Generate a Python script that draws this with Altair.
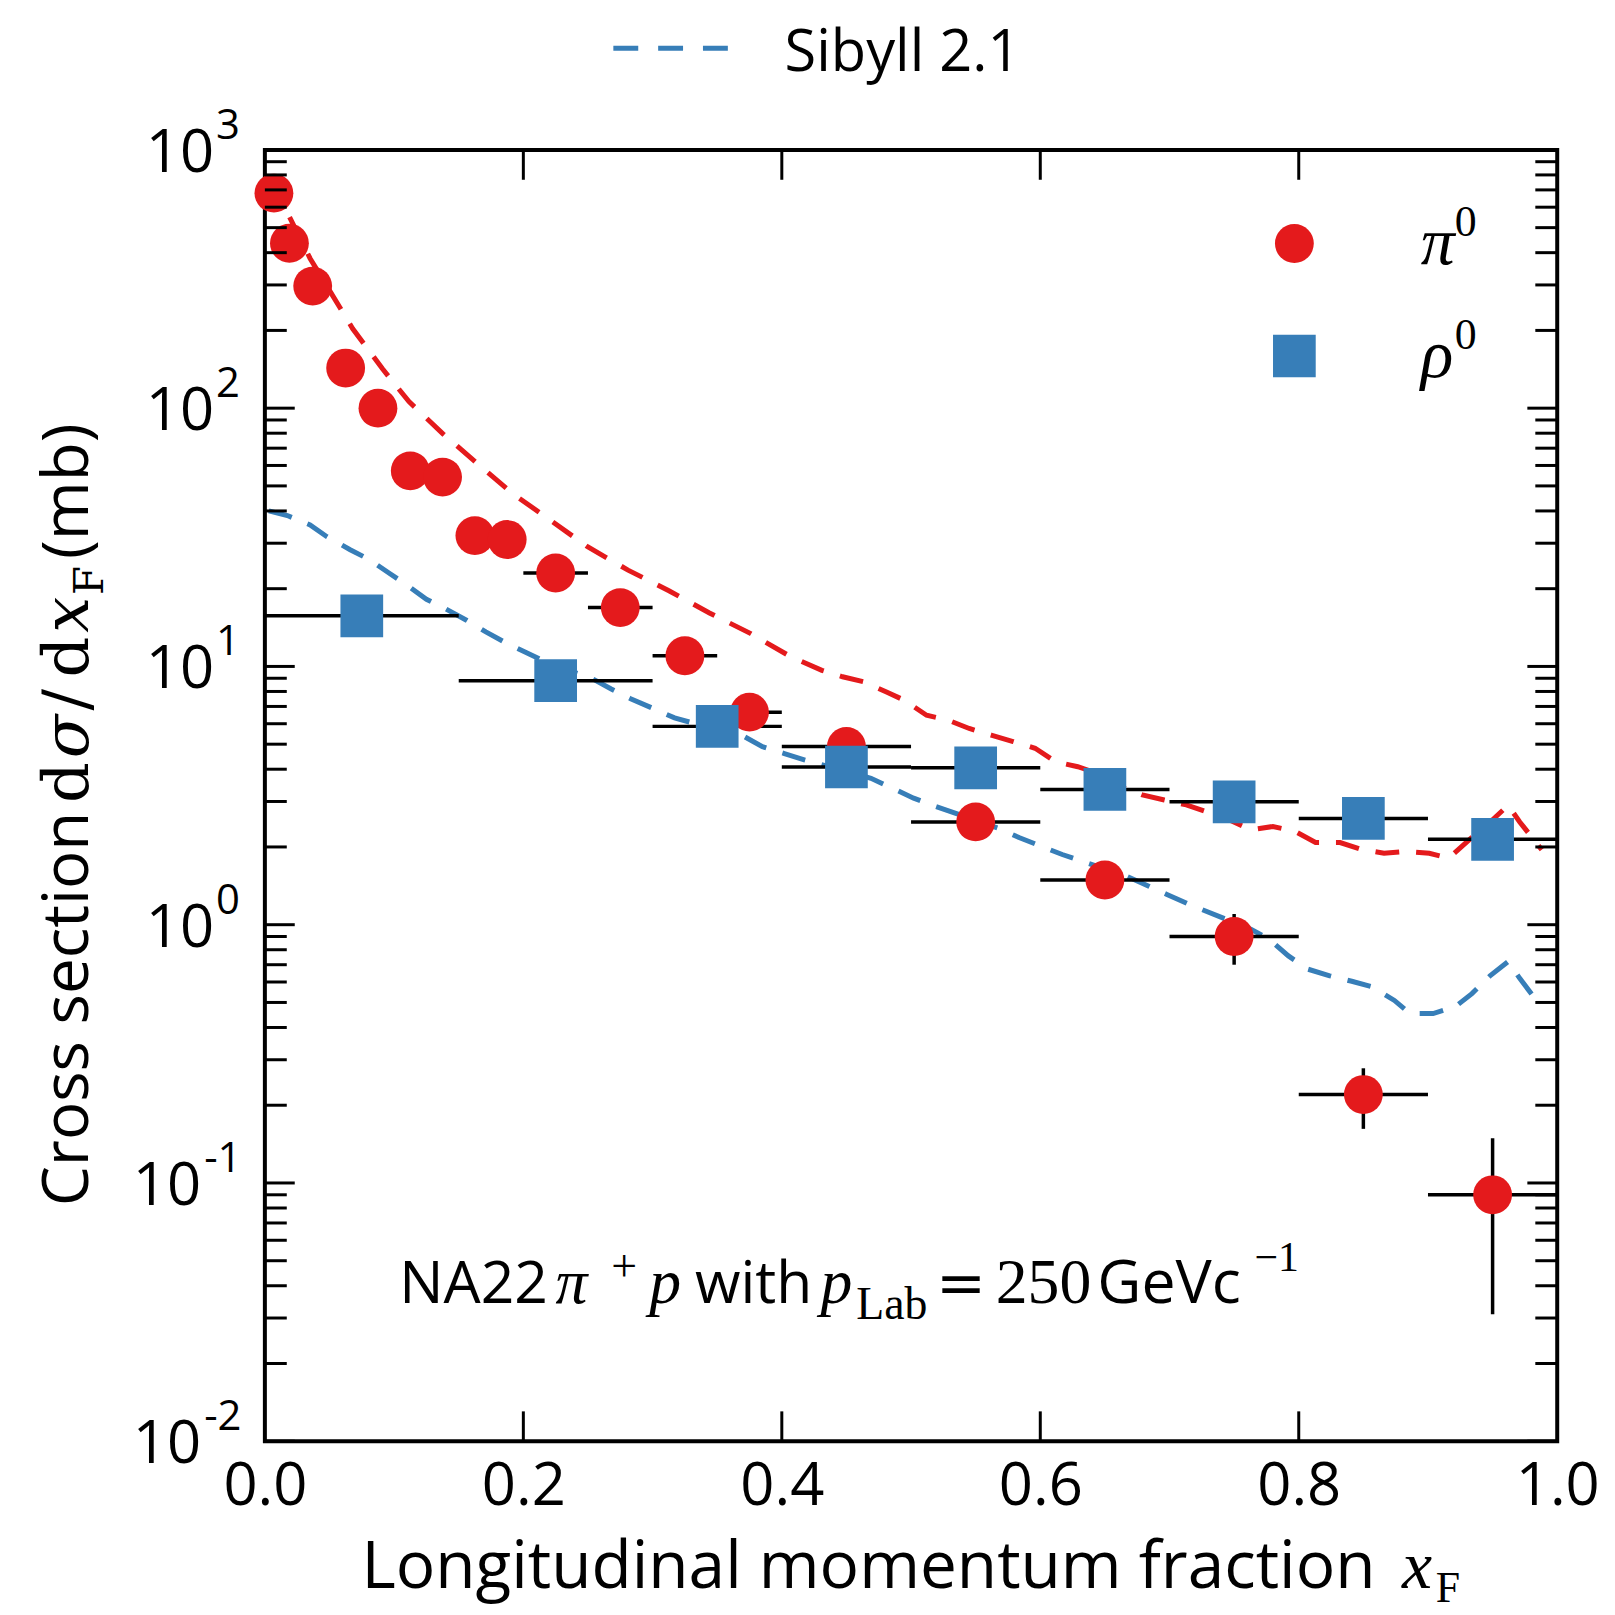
import altair as alt
import pandas as pd

# ---------------- data ----------------
pi0_x = [0.007, 0.019, 0.037, 0.0625, 0.0875, 0.1125, 0.1375, 0.1625, 0.1875,
         0.225, 0.275, 0.325, 0.375, 0.45, 0.55, 0.65, 0.75, 0.85, 0.95]
pi0_y = [680, 435, 297, 143, 100, 57.2, 54.1, 32.1, 31.0,
         23.0, 16.9, 11.0, 6.65, 4.9, 2.50, 1.49, 0.90, 0.22, 0.090]
pi0_xerr = [0.006, 0.006, 0.0125, 0.0125, 0.0125, 0.0125, 0.0125, 0.0125, 0.0125,
            0.025, 0.025, 0.025, 0.025, 0.05, 0.05, 0.05, 0.05, 0.05, 0.05]
pi0_yerr = [0, 0, 0, 0, 0, 0, 0, 0, 0,
            0, 0, 0, 0, 0, 0, 0, 0.20, 0.058, 0.059]

rho0_x = [0.075, 0.225, 0.35, 0.45, 0.55, 0.65, 0.75, 0.85, 0.95]
rho0_y = [15.7, 8.81, 5.86, 4.08, 4.05, 3.34, 2.99, 2.58, 2.14]
rho0_xerr = [0.075, 0.075, 0.05, 0.05, 0.05, 0.05, 0.05, 0.05, 0.05]
rho0_yerr = [0, 0, 0, 0, 0, 0, 0, 0, 0]

sib_pi0_x = [0.005, 0.0174, 0.035, 0.068, 0.091, 0.1115, 0.138, 0.165, 0.192, 0.221,
             0.250, 0.281, 0.313, 0.344, 0.376, 0.407, 0.431, 0.447, 0.464, 0.481,
             0.495, 0.512, 0.529, 0.545, 0.562, 0.579, 0.596, 0.612, 0.629, 0.644,
             0.662, 0.679, 0.696, 0.713, 0.732, 0.746, 0.763, 0.780, 0.797, 0.813,
             0.832, 0.848, 0.866, 0.883, 0.901, 0.916, 0.935, 0.950, 0.962, 0.971,
             0.988]
sib_pi0_y = [760, 571, 380, 203, 142, 106, 79.4, 60.7, 46.6, 36.8,
             29.0, 23.6, 19.6, 16.1, 13.4, 10.9, 9.66, 9.12, 8.7, 7.96,
             7.39, 6.47, 6.19, 5.75, 5.42, 5.12, 4.82, 4.27, 4.09, 3.86,
             3.43, 3.18, 3.04, 2.91, 2.70, 2.55, 2.33, 2.40, 2.30, 2.08,
             2.08, 1.96, 1.89, 1.92, 1.89, 1.81, 2.2, 2.55, 2.9, 2.5,
             1.95]

sib_rho0_x = [0.003, 0.0174, 0.035, 0.048, 0.066, 0.081, 0.096, 0.109, 0.125, 0.140,
              0.156, 0.171, 0.187, 0.221, 0.252, 0.268, 0.283, 0.300, 0.317, 0.344,
              0.371, 0.385, 0.402, 0.418, 0.469, 0.486, 0.502, 0.519, 0.567, 0.584,
              0.601, 0.617, 0.667, 0.684, 0.698, 0.715, 0.763, 0.777, 0.792, 0.807,
              0.824, 0.841, 0.857, 0.874, 0.886, 0.904, 0.921, 0.934, 0.948, 0.962,
              0.971, 0.985]
sib_rho0_y = [40, 38.4, 35.3, 31.8, 28.3, 25.9, 23.0, 20.8, 18.2, 16.7,
              15.1, 13.6, 12.3, 10.2, 9.04, 8.18, 7.50, 6.89, 6.32, 5.8,
              5.35, 4.89, 4.60, 4.34, 3.69, 3.37, 3.09, 2.87, 2.37, 2.17,
              2.01, 1.87, 1.54, 1.41, 1.31, 1.20, 0.96, 0.88, 0.757, 0.673,
              0.634, 0.604, 0.574, 0.509, 0.453, 0.453, 0.481, 0.541, 0.634, 0.72,
              0.62, 0.50]

x_tick_values = [0.0, 0.2, 0.4, 0.6, 0.8, 1.0]
x_inner_ticks = [0.2, 0.4, 0.6, 0.8]
y_decades = [0.01, 0.1, 1, 10, 100, 1000]
y_exponents = ["-2", "-1", "0", "1", "2", "3"]
y_minor = [m * d for d in [0.01, 0.1, 1, 10, 100] for m in range(2, 10)]

PI0 = "π⁰"
RHO0 = "ρ⁰"
MODEL = "Sibyll 2.1"

# ---------------- styling ----------------
RED = "#e41a1c"
BLUE = "#377eb8"
W, H = 1298, 1297
SANS = "Open Sans, Noto Sans, DejaVu Sans, sans-serif"
SERIF = "Liberation Serif, DejaVu Serif, serif"
MSERIF = "DejaVu Serif, serif"
DASH = [24, 17]

points = pd.DataFrame({
    "particle": [PI0] * len(pi0_x) + [RHO0] * len(rho0_x),
    "xF": pi0_x + rho0_x,
    "sigma": pi0_y + rho0_y,
    "xerr": pi0_xerr + rho0_xerr,
    "yerr": pi0_yerr + rho0_yerr,
})
sib = pd.DataFrame({
    "particle": [PI0] * len(sib_pi0_x) + [RHO0] * len(sib_rho0_x),
    "model": MODEL,
    "xF": sib_pi0_x + sib_rho0_x,
    "sigma": sib_pi0_y + sib_rho0_y,
})

xscale = alt.Scale(domain=[0, 1], nice=False, zero=False)
yscale = alt.Scale(type="log", domain=[0.01, 1000], nice=False)
x_axis = alt.Axis(values=x_tick_values, format=".1f", labelFont=SANS, labelFontSize=60,
                  labelColor="black", labelPadding=17, labelFlush=False, ticks=False,
                  tickSize=0, domain=False, grid=False, title=None)


def X(field):
    return alt.X(field, scale=xscale, axis=x_axis)


def Y(field):
    return alt.Y(field, scale=yscale, axis=None)


lines = alt.Chart(sib).mark_line(strokeWidth=5, strokeDash=DASH, clip=True).encode(
    x=X("xF:Q"),
    y=Y("sigma:Q"),
    stroke=alt.Stroke("particle:N", scale=alt.Scale(domain=[PI0, RHO0], range=[RED, BLUE]),
                      legend=None),
    detail="model:N",
)

xbars = alt.Chart(points).transform_calculate(
    xlo="datum.xF - datum.xerr", xhi="datum.xF + datum.xerr"
).mark_rule(color="black", strokeWidth=3.5).encode(
    x=X("xlo:Q"), x2="xhi:Q", y=Y("sigma:Q")
)

ybars = alt.Chart(points).transform_filter("datum.yerr > 0").transform_calculate(
    ylo="datum.sigma - datum.yerr", yhi="datum.sigma + datum.yerr"
).mark_rule(color="black", strokeWidth=3.5).encode(
    x=X("xF:Q"), y=Y("ylo:Q"), y2="yhi:Q"
)

circles = alt.Chart(points).transform_filter(
    alt.datum.particle == PI0
).mark_point(filled=True, opacity=1, strokeWidth=0, size=1520, shape="circle",
             color=RED).encode(x=X("xF:Q"), y=Y("sigma:Q"))
squares = alt.Chart(points).transform_filter(
    alt.datum.particle == RHO0
).mark_point(filled=True, opacity=1, strokeWidth=0, size=1840, shape="square",
             color=BLUE).encode(x=X("xF:Q"), y=Y("sigma:Q"))

# legend keys: markers (upper right, inside the frame) and model line (top)
one = pd.DataFrame({"particle": [PI0]})
two = pd.DataFrame({"particle": [RHO0]})
mod = pd.DataFrame({"model": [MODEL]})
key_layers = [
    alt.Chart(one).mark_point(filled=True, opacity=1, strokeWidth=0, size=1520,
                              shape="circle", color=RED).encode(
        x=alt.value(1034), y=alt.value(94)),
    alt.Chart(two).mark_point(filled=True, opacity=1, strokeWidth=0, size=1840,
                              shape="square", color=BLUE).encode(
        x=alt.value(1034), y=alt.value(207)),
    alt.Chart(mod).mark_rule(strokeWidth=5, strokeDash=[25, 20], color=BLUE).encode(
        x=alt.value(350), x2=alt.value(465), y=alt.value(-102)),
]

# inward ticks on all four sides
ymaj = pd.DataFrame({"v": y_decades})
ymin = pd.DataFrame({"v": y_minor})
xt = pd.DataFrame({"v": x_inner_ticks})
tick_layers = []
for df, L in [(ymaj, 30), (ymin, 22)]:
    tick_layers.append(alt.Chart(df).mark_rule(color="black", strokeWidth=3).encode(
        y=Y("v:Q"), x=alt.value(0), x2=alt.value(L)))
    tick_layers.append(alt.Chart(df).mark_rule(color="black", strokeWidth=3).encode(
        y=Y("v:Q"), x=alt.value(W - L), x2=alt.value(W)))
tick_layers.append(alt.Chart(xt).mark_rule(color="black", strokeWidth=3).encode(
    x=X("v:Q"), y=alt.value(H - 30), y2=alt.value(H)))
tick_layers.append(alt.Chart(xt).mark_rule(color="black", strokeWidth=3).encode(
    x=X("v:Q"), y=alt.value(0), y2=alt.value(30)))

# y tick labels 10^n
ylab = pd.DataFrame({"dec": y_decades, "exp": y_exponents})
ylab_layers = []
for cond, x_ten, x_sup in [("length(datum.exp) == 1", -51, -49),
                           ("length(datum.exp) > 1", -64, -61)]:
    base = alt.Chart(ylab).transform_filter(cond)
    ylab_layers.append(base.mark_text(align="right", baseline="alphabetic", dy=22,
                                      font=SANS, fontSize=60, color="black").encode(
        y=Y("dec:Q"), x=alt.value(x_ten), text=alt.value("10")))
    ylab_layers.append(base.mark_text(align="left", baseline="alphabetic", dy=-11,
                                      font=SANS, fontSize=42, color="black").encode(
        y=Y("dec:Q"), x=alt.value(x_sup), text="exp:N"))


def txt(s, x, y, font, size, style="normal", angle=0):
    return alt.Chart(pd.DataFrame({"t": [s]})).mark_text(
        font=font, fontSize=size, fontStyle=style, angle=angle, align="left",
        baseline="alphabetic", color="black"
    ).encode(x=alt.value(x), y=alt.value(y), text="t:N")


texts = [
    # model legend label
    txt(MODEL, 522, -79, SANS, 58),
    # marker legend labels
    txt("π", 1161, 115, SERIF, 68, "italic"),
    txt("0", 1195, 86, SERIF, 44),
    txt("ρ", 1161, 228, SERIF, 68, "italic"),
    txt("0", 1195, 200, SERIF, 44),
    # annotation
    txt("NA22", 135, 1158, SANS, 59),
    txt("π", 292, 1158, SERIF, 64, "italic"),
    txt("+", 348, 1136, SERIF, 46),
    txt("p", 386, 1158, SERIF, 64, "italic"),
    txt("with", 432, 1158, SANS, 59),
    txt("p", 558, 1158, SERIF, 64, "italic"),
    txt("Lab", 594, 1174, SERIF, 46),
    txt("=", 674, 1158, MSERIF, 60),
    txt("250", 734, 1158, SERIF, 64),
    txt("GeVc", 836, 1158, SANS, 61),
    txt("−1", 994, 1126, SERIF, 42),
    # x title
    txt("Longitudinal momentum fraction", 97, 1444, SANS, 66),
    txt("x", 1142, 1444, SERIF, 68, "italic"),
    txt("F", 1176, 1458, SERIF, 44),
    # y title (rotated)
    txt("Cross section", -178, 1061, SANS, 64, angle=270),
    txt("d", -178, 656, MSERIF, 64, angle=270),
    txt("σ", -178, 611, MSERIF, 64, "italic", angle=270),
    txt("/", -178, 563, MSERIF, 64, angle=270),
    txt("d", -178, 530, MSERIF, 64, angle=270),
    txt("x", -178, 485, MSERIF, 64, "italic", angle=270),
    txt("F", -163, 447, MSERIF, 42, angle=270),
    txt("(mb)", -178, 411, SANS, 64, angle=270),
]

chart = alt.layer(
    lines, xbars, ybars, circles, squares, *key_layers, *tick_layers, *ylab_layers, *texts
).properties(
    width=W, height=H,
    padding={"left": 258, "top": 139, "right": 50, "bottom": 170},
    autosize=alt.AutoSizeParams(type="none"),
).configure_view(stroke="black", strokeWidth=4)

chart.save("out.html", embed_options={"renderer": "svg", "actions": False})
